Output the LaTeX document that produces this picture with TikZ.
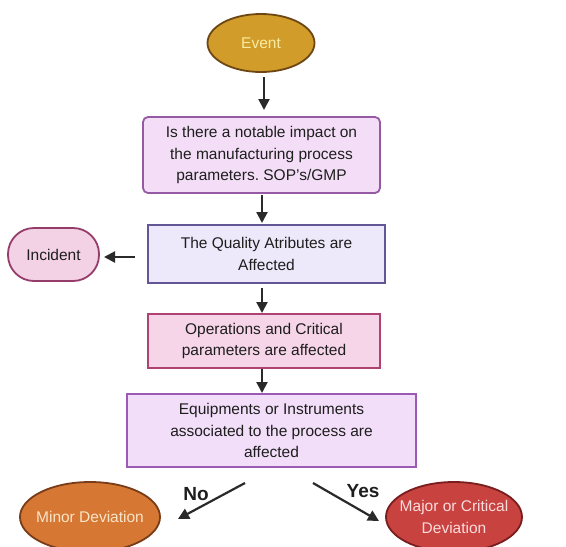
\documentclass[tikz,border=0pt]{standalone}
\usepackage{fontspec}
\setmainfont{Liberation Sans}
\usetikzlibrary{arrows.meta,shapes.geometric}
\frenchspacing
\definecolor{txt}{HTML}{1E1E1E}
\definecolor{arr}{HTML}{2A2A2A}
\definecolor{evD}{RGB}{110,70,20}
\definecolor{evF}{RGB}{210,156,42}
\definecolor{evT}{RGB}{248,236,160}
\definecolor{b1D}{RGB}{150,90,165}
\definecolor{b1F}{RGB}{244,222,247}
\definecolor{b2D}{RGB}{100,85,150}
\definecolor{b2F}{RGB}{238,233,250}
\definecolor{inD}{RGB}{150,60,105}
\definecolor{inF}{RGB}{243,210,230}
\definecolor{b3D}{RGB}{175,65,115}
\definecolor{b3F}{RGB}{246,213,233}
\definecolor{b4D}{RGB}{155,90,180}
\definecolor{b4F}{RGB}{242,222,248}
\definecolor{miD}{RGB}{120,60,25}
\definecolor{miF}{RGB}{214,120,52}
\definecolor{miT}{RGB}{250,228,200}
\definecolor{maD}{RGB}{120,30,30}
\definecolor{maF}{RGB}{200,66,64}
\definecolor{maT}{RGB}{250,220,220}
\begin{document}
\begin{tikzpicture}[x=1pt,y=-1pt,
  every node/.style={font=\fontsize{15.5}{21.5}\selectfont, text=txt, align=center, inner sep=0pt},
  boxA/.style={draw=#1, line width=1.8pt, rectangle},
  oval/.style={ellipse, line width=1.8pt},
  conn/.style={draw=arr, line width=2.2pt, -{Triangle[length=11pt,width=11pt]}},
  lbl/.style={font=\fontsize{19}{21}\bfseries\selectfont}]
\useasboundingbox (0,0) rectangle (566,547);
\fill[white] (0,0) rectangle (566,547);

\node[oval, draw=evD, fill=evF, minimum width=107pt, minimum height=58pt, label={[text=evT]center:Event}] (event) at (261,43) {};

\node[boxA=b1D, fill=b1F, rounded corners=5pt, minimum width=237pt, minimum height=76pt] (b1) at (261.5,155) {Is there a notable impact on\\the manufacturing process\\parameters. SOP's/GMP};

\node[boxA=b2D, fill=b2F, minimum width=237pt, minimum height=58pt] (b2) at (266.5,254) {The Quality Atributes are\\Affected};

\node[draw=inD, fill=inF, line width=1.8pt, rounded corners=26pt, minimum width=91pt, minimum height=53pt] (inc) at (53.5,254.5) {Incident};

\node[boxA=b3D, fill=b3F, minimum width=232pt, minimum height=54pt] (b3) at (264,341) {Operations and Critical\\parameters are affected};

\node[boxA=b4D, fill=b4F, minimum width=289pt, minimum height=73pt] (b4) at (271.5,430.5) {Equipments or Instruments\\associated to the process are\\affected};

\node[oval, draw=miD, fill=miF, minimum width=140pt, minimum height=70pt, label={[text=miT]center:Minor Deviation}] (minor) at (90,517) {};

\node[oval, draw=maD, fill=maF, minimum width=136pt, minimum height=70pt, label={[text=maT, align=center]center:Major or Critical\\Deviation}] (major) at (454,517) {};

\coordinate (e1) at (264,77);
\coordinate (e2) at (264,110);
\draw[conn] (e1) -- (e2);
\coordinate (s1) at (262,195);
\coordinate (t1) at (262,223);
\draw[conn] (s1) -- (t1);
\coordinate (l1) at (135,257);
\coordinate (l2) at (104,257);
\draw[conn] (l1) -- (l2);
\coordinate (s2) at (262,288);
\coordinate (t2) at (262,313);
\draw[conn] (s2) -- (t2);
\coordinate (s3) at (262,369);
\coordinate (t3) at (262,393);
\draw[conn] (s3) -- (t3);
\coordinate (n1) at (245,483);
\coordinate (n2) at (178,519);
\draw[conn] (n1) -- (n2);
\coordinate (y1) at (313,483);
\coordinate (y2) at (379,521);
\draw[conn] (y1) -- (y2);

\node[lbl] (no) at (196,494) {No};
\node[lbl] (yes) at (363,491) {Yes};
\end{tikzpicture}
\end{document}
